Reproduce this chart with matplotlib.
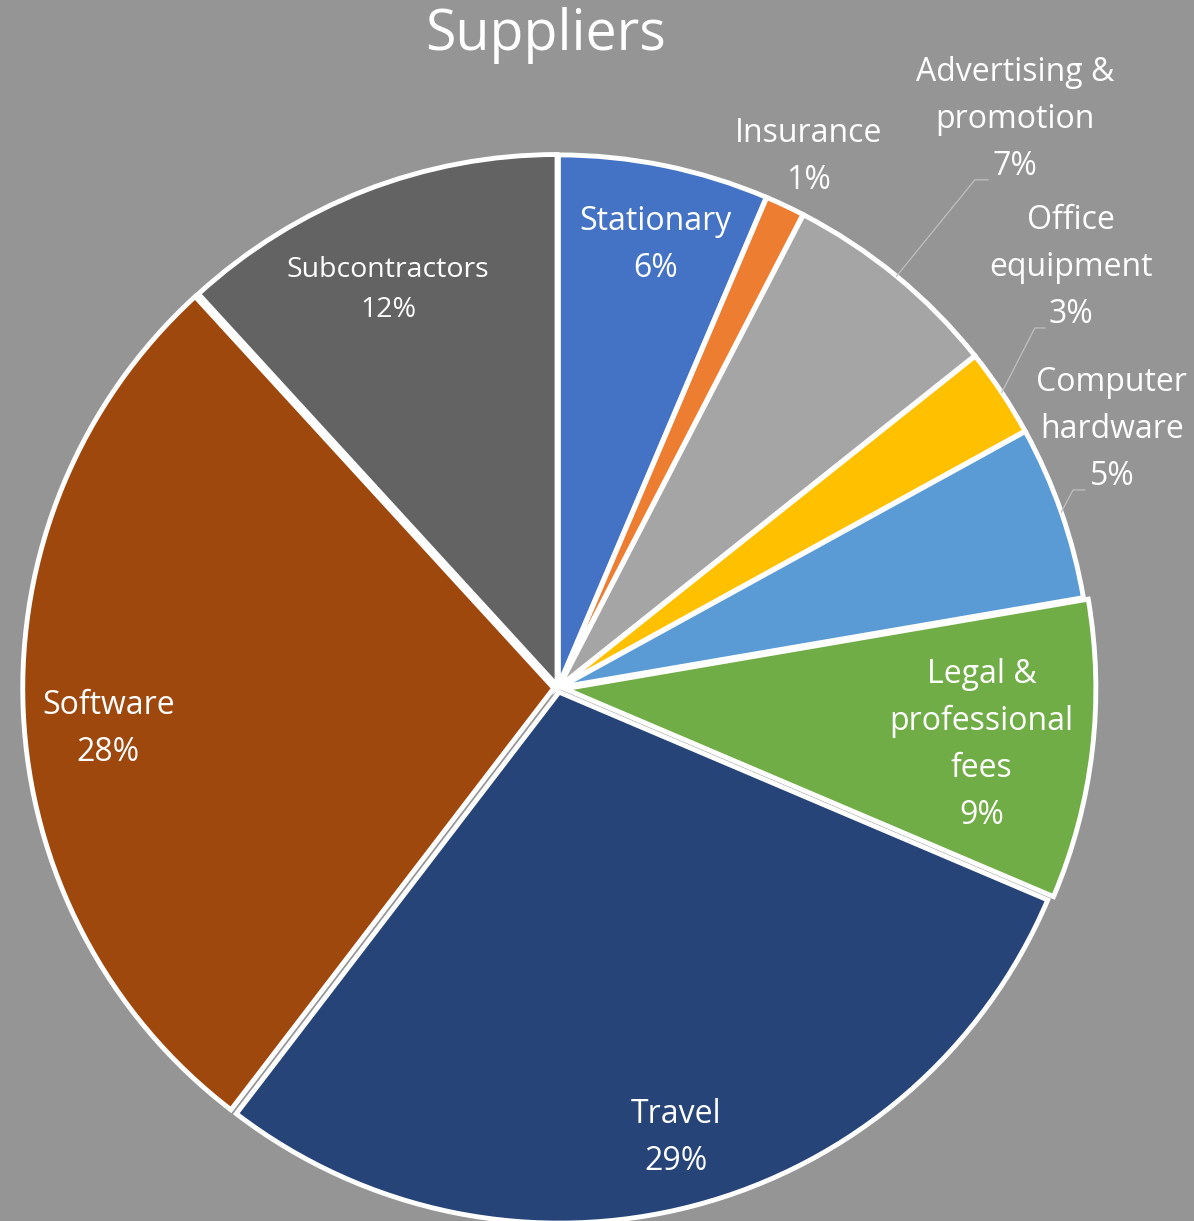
import numpy as np
import matplotlib
matplotlib.use('Agg')
import matplotlib.pyplot as plt

plt.rcParams['font.family'] = ['Open Sans', 'DejaVu Sans']

# data (clockwise from 12 o'clock)
names = ['Stationary', 'Insurance', 'Advertising &\npromotion', 'Office\nequipment',
         'Computer\nhardware', 'Legal &\nprofessional\nfees', 'Travel', 'Software',
         'Subcontractors']
values = [6.4, 1.2, 6.7, 2.7, 5.3, 9.1, 29.0, 27.8, 11.8]
colors = ['#4472C4', '#ED7D31', '#A5A5A5', '#FFC000', '#5B9BD5', '#70AD47',
          '#264478', '#9E480E', '#636363']
explode = [0.004, 0.004, 0.004, 0.004, 0.004, 0.013, 0.008, 0.008, 0.005]

# label positions (data coords, pie radius = 1)
label_pos = [(0.183, 0.834), (0.471, 1.0), (0.861, 1.070), (0.966, 0.791),
             (1.043, 0.486), (0.798, -0.107), (0.222, -0.847), (-0.847, -0.077),
             (-0.320, 0.750)]
# elbows for the leader lines (index: (elbow, end))
leaders = {2: ((0.785, 0.957), (0.810, 0.957)),
           3: ((0.898, 0.678), (0.917, 0.678)),
           4: ((0.970, 0.373), (0.992, 0.373))}

bg = '#959595'
fig = plt.figure(figsize=(11.94, 12.21), dpi=100, facecolor=bg)
ax = fig.add_axes([0, 0, 1, 1])
ax.set_facecolor(bg)

wedges, _ = ax.pie(values, colors=colors, startangle=90, counterclock=False,
                   explode=explode, radius=1.0,
                   wedgeprops=dict(edgecolor='white', linewidth=3.5))

total = sum(values)
for i, (w, n) in enumerate(zip(wedges, names)):
    pct = round(values[i] / total * 100)
    x, y = label_pos[i]
    fs = 20.5 if n == 'Subcontractors' else 23
    ax.text(x, y, f'{n}\n{pct}%', ha='center', va='center', color='white',
            fontsize=fs, linespacing=1.56)
    if i in leaders:
        mid = np.deg2rad((w.theta1 + w.theta2) / 2)
        cx, cy = w.center
        sx, sy = cx + np.cos(mid) * w.r, cy + np.sin(mid) * w.r
        (ex, ey), (fx, fy) = leaders[i]
        ax.plot([sx, ex, fx], [sy, ey, fy], color='#BFBFBF', lw=0.9)

ax.text(-0.0226, 1.2279, 'Suppliers', ha='center', va='center', color='white',
        fontsize=40)

ax.set_xlim(-558 / 531, (1194 - 558) / 531)
ax.set_ylim((688 - 1221) / 531, 688 / 531)
ax.set_aspect('auto')
ax.axis('off')

fig.savefig('out.png', dpi=100, facecolor=bg)
